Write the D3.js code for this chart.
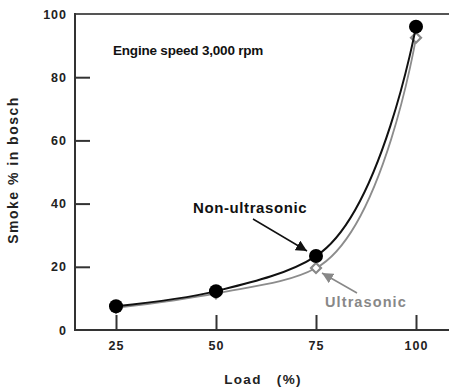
<!DOCTYPE html>
<html>
<head>
<meta charset="utf-8">
<script src="https://cdn.jsdelivr.net/npm/d3@7"></script>
<style>
  html, body { margin: 0; padding: 0; background: #fff; }
  svg { display: block; font-family: "Liberation Sans", Arial, sans-serif; }
  .tick text { font-weight: bold; font-size: 12.5px; fill: #222; letter-spacing: 1px; }
</style>
</head>
<body>
<svg id="chart" width="449" height="387"></svg>
<script>
// Engine load (%) and Bosch smoke number for each fuel treatment
const loads = [25, 50, 75, 100];
const nonUltrasonic = [7.5, 12.3, 23.4, 96];
const ultrasonic = [7.0, 11.6, 19.6, 92.5];
const yTicks = [0, 20, 40, 60, 80, 100];
const xTicks = [25, 50, 75, 100];

const chartW = 449;
const plotLeft = 75, plotTop = 14, plotBottom = 330;

const svg = d3.select("#chart");

const x = d3.scaleLinear().domain([25, 100]).range([116, 416]);
const y = d3.scaleLinear().domain([0, 100]).range([plotBottom, plotTop]);

// Frame lines: left axis, baseline and top rule
svg.append("line").attr("x1", plotLeft).attr("x2", chartW).attr("y1", y(0)).attr("y2", y(0))
  .attr("stroke", "#333").attr("stroke-width", 2);
svg.append("line").attr("x1", plotLeft).attr("x2", chartW).attr("y1", y(100)).attr("y2", y(100))
  .attr("stroke", "#555").attr("stroke-width", 2);
svg.append("line").attr("x1", plotLeft).attr("x2", plotLeft).attr("y1", y(100) - 1).attr("y2", y(0) + 1)
  .attr("stroke", "#333").attr("stroke-width", 2);

// Axes with inward ticks
const gx = svg.append("g").attr("transform", `translate(0,${y(0)})`)
  .call(d3.axisBottom(x).tickValues(xTicks).tickSize(-15).tickPadding(11).tickFormat(d3.format("d")));
const gy = svg.append("g").attr("transform", `translate(${plotLeft},0)`)
  .call(d3.axisLeft(y).tickValues(yTicks).tickSize(-15).tickPadding(8).tickFormat(d3.format("d")));
[gx, gy].forEach(g => {
  g.select(".domain").remove();
  g.selectAll(".tick line").attr("stroke", "#333").attr("stroke-width", 2);
});
gy.selectAll(".tick").filter(d => d === 100 || d === 0).select("line").remove();

// Axis titles
svg.append("text").attr("x", 263).attr("y", 384)
  .attr("text-anchor", "middle").attr("font-weight", "bold").attr("font-size", 13.5)
  .attr("fill", "#222").attr("letter-spacing", 1.3).attr("xml:space", "preserve")
  .text("Load   (%)");
svg.append("text").attr("transform", `translate(18,170) rotate(-90)`)
  .attr("text-anchor", "middle").attr("font-weight", "bold").attr("font-size", 14)
  .attr("fill", "#222").attr("letter-spacing", 1.5)
  .text("Smoke % in bosch");

// Condition note
svg.append("text").attr("x", 113).attr("y", 55)
  .attr("font-weight", "bold").attr("font-size", 13.5).attr("fill", "#111")
  .attr("letter-spacing", -0.2)
  .text("Engine speed 3,000 rpm");

const line = d3.line().x(d => x(d[0])).y(d => y(d[1])).curve(d3.curveCatmullRom.alpha(1));

// Ultrasonic series: grey curve with open diamonds
const ultraPts = loads.map((l, i) => [l, ultrasonic[i]]);
svg.append("path").datum(ultraPts).attr("d", line)
  .attr("fill", "none").attr("stroke", "#8c8c8c").attr("stroke-width", 1.8);
svg.selectAll(".diamond").data(ultraPts).enter().append("path")
  .attr("class", "diamond")
  .attr("transform", d => `translate(${x(d[0])},${y(d[1])}) rotate(45)`)
  .attr("d", d3.symbol().type(d3.symbolSquare).size(50))
  .attr("fill", "#fff").attr("stroke", "#888").attr("stroke-width", 2.2);

// Non-ultrasonic series: black curve with filled circles
const nonPts = loads.map((l, i) => [l, nonUltrasonic[i]]);
svg.append("path").datum(nonPts).attr("d", line)
  .attr("fill", "none").attr("stroke", "#111").attr("stroke-width", 2);
svg.selectAll(".dot").data(nonPts).enter().append("circle")
  .attr("class", "dot")
  .attr("cx", d => x(d[0])).attr("cy", d => y(d[1])).attr("r", 7)
  .attr("fill", "#000");

// Arrowheads
const defs = svg.append("defs");
[["arrowBlack", "#111"], ["arrowGrey", "#888"]].forEach(([id, c]) => {
  defs.append("marker").attr("id", id).attr("viewBox", "0 0 10 10")
    .attr("refX", 10).attr("refY", 5).attr("markerWidth", 11).attr("markerHeight", 11)
    .attr("markerUnits", "userSpaceOnUse").attr("orient", "auto")
    .append("path").attr("d", "M0,0 L10,5 L0,10 Z").attr("fill", c);
});

// Series annotations
svg.append("text").attr("x", 193).attr("y", 213)
  .attr("font-weight", "bold").attr("font-size", 15).attr("fill", "#111")
  .attr("letter-spacing", 0.6)
  .text("Non-ultrasonic");
svg.append("line").attr("x1", 253).attr("y1", 219).attr("x2", 307).attr("y2", 251)
  .attr("stroke", "#111").attr("stroke-width", 1.5).attr("marker-end", "url(#arrowBlack)");

svg.append("text").attr("x", 325).attr("y", 307)
  .attr("font-weight", "bold").attr("font-size", 14.5).attr("fill", "#888")
  .attr("letter-spacing", 1.1)
  .text("Ultrasonic");
svg.append("line").attr("x1", 357).attr("y1", 293).attr("x2", 322).attr("y2", 273)
  .attr("stroke", "#888").attr("stroke-width", 1.5).attr("marker-end", "url(#arrowGrey)");
</script>
</body>
</html>
